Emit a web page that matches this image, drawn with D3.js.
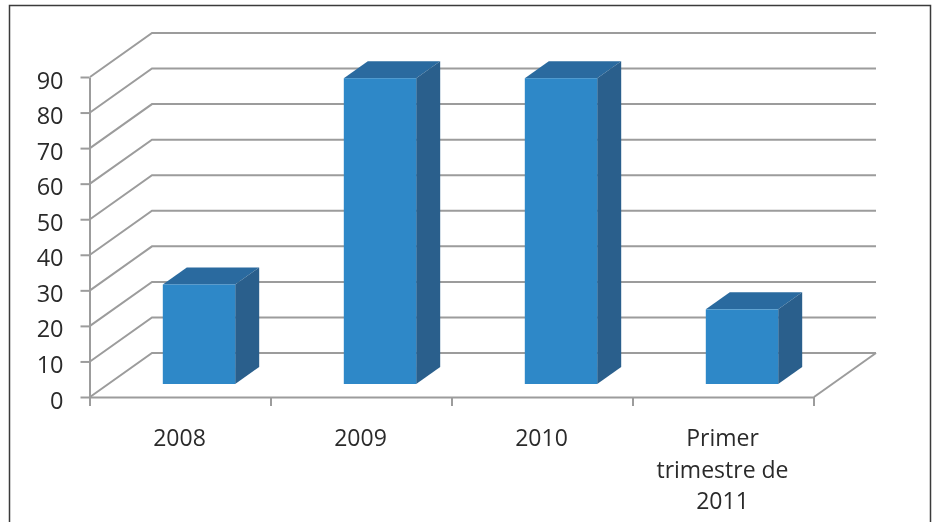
<!DOCTYPE html>
<html>
<head>
<meta charset="utf-8">
<script src="https://cdnjs.cloudflare.com/ajax/libs/d3/7.8.5/d3.min.js"></script>
<style>
    html, body { margin: 0; padding: 0; background: #fff; overflow: hidden; }
    svg { display: block; }
    text { font-family: "Open Sans", sans-serif; fill: #2b2b2b; }
</style>
</head>
<body>
<script>
// values
const categories = ["2008", "2009", "2010", "Primer trimestre de 2011"];
const values = [28, 86, 86, 21];
const yTicks = [0, 10, 20, 30, 40, 50, 60, 70, 80, 90];
const categoryLines = [["2008"], ["2009"], ["2010"], ["Primer", "trimestre de", "2011"]];

const width = 937, height = 522;
const gridColour = "#9c9c9c";

// 3d look: offset of the back wall and of the bar depth
const wallDx = 62, wallDy = -44;
const barDx = 24, barDy = -17;
const floorGap = 13;   // how far the bars stand behind the front edge of the floor

const y = d3.scaleLinear().domain([0, 90]).range([397, 77]);
const x = d3.scaleBand().domain(categories).range([90, 814]).paddingInner(0.6).paddingOuter(0.3);
const xEdge = d3.scaleLinear().domain([0, categories.length]).range([90, 814]);

const svg = d3.select("body").append("svg")
    .attr("width", width)
    .attr("height", height);

// the reference is a soft scan, so blur everything a little
svg.append("filter")
    .attr("id", "soft")
    .attr("x", 0).attr("y", 0)
    .attr("width", 1).attr("height", 1)
    .attr("filterUnits", "objectBoundingBox")
    .append("feGaussianBlur")
    .attr("stdDeviation", 0.45);

const chart = svg.append("g")
    .attr("filter", "url(#soft)");

// outer frame
chart.append("rect")
    .attr("x", 0).attr("y", 0)
    .attr("width", width).attr("height", height)
    .attr("fill", "#fff");

chart.append("rect")
    .attr("x", 9.5).attr("y", 5.5)
    .attr("width", 921).attr("height", height)
    .attr("fill", "#fff")
    .attr("stroke", "#3a3a3a")
    .attr("stroke-width", 1.5);

// gridlines going along the side wall and then the back wall
const line = d3.line();
chart.selectAll(".grid")
    .data(yTicks)
    .enter()
    .append("path")
    .attr("class", "grid")
    .attr("d", d => line([[xEdge(0), y(d)], [xEdge(0) + wallDx, y(d) + wallDy], [xEdge(4) + wallDx, y(d) + wallDy]]))
    .attr("fill", "none")
    .attr("stroke", gridColour)
    .attr("stroke-width", 2);

// right edge of the floor
chart.append("path")
    .attr("d", line([[xEdge(4), y(0)], [xEdge(4) + wallDx, y(0) + wallDy]]))
    .attr("stroke", gridColour)
    .attr("stroke-width", 2);

// bars, top and side first
const bars = chart.selectAll(".bar")
    .data(categories)
    .enter()
    .append("g")
    .attr("class", "bar");

const bw = x.bandwidth();
const fx = c => x(c) + 18.5;
const base = y(0) - floorGap;
const barTop = (c, i) => base - (y(0) - y(values[i]));

bars.append("path")
    .attr("d", (c, i) => line([[fx(c), barTop(c, i)], [fx(c) + barDx, barTop(c, i) + barDy], [fx(c) + bw + barDx, barTop(c, i) + barDy], [fx(c) + bw, barTop(c, i)]]) + "Z")
    .attr("fill", "#2a6b9f");

bars.append("path")
    .attr("d", (c, i) => line([[fx(c) + bw, barTop(c, i)], [fx(c) + bw + barDx, barTop(c, i) + barDy], [fx(c) + bw + barDx, base + barDy], [fx(c) + bw, base]]) + "Z")
    .attr("fill", "#2a5f8c");

bars.append("rect")
    .attr("x", c => fx(c))
    .attr("y", (c, i) => barTop(c, i))
    .attr("width", bw)
    .attr("height", (c, i) => base - barTop(c, i))
    .attr("fill", "#2f88c8");

// axes
const yAxis = chart.append("g")
    .attr("transform", "translate(89.5,0)")
    .call(d3.axisLeft(y).tickValues(yTicks).tickSize(9).tickSizeOuter(0).tickPadding(17));

const xAxis = chart.append("g")
    .attr("transform", "translate(-0.5,397)")
    .call(d3.axisBottom(xEdge).ticks(categories.length).tickSize(9).tickSizeOuter(0).tickFormat(""));

chart.selectAll(".domain, .tick line")
    .attr("stroke", gridColour)
    .attr("stroke-width", 2);

yAxis.selectAll("text")
    .style("font-size", "23.5px")
    .attr("dy", "0.47em")
    .attr("fill", "#2b2b2b");

// category labels, wrapped by hand
categories.forEach(function(c, i) {
    chart.append("text")
        .attr("text-anchor", "middle")
        .style("font-size", "23px")
        .selectAll("tspan")
        .data(categoryLines[i])
        .enter()
        .append("tspan")
        .attr("x", x(c) + bw / 2 - 1)
        .attr("y", (d, k) => 446 + k * 31.5)
        .text(d => d);
});
</script>
</body>
</html>
